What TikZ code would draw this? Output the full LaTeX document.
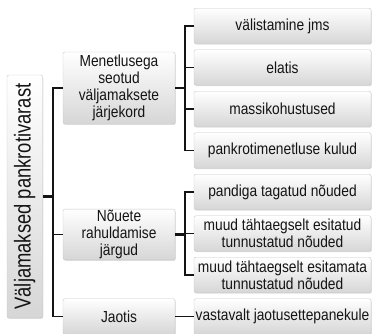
\documentclass[tikz,border=0pt]{standalone}
\usepackage{fontspec}
\setmainfont{Liberation Sans}[FakeStretch=0.86]
\newfontfamily\rootfont{Liberation Sans}[FakeStretch=0.8]
\usetikzlibrary{shadows}
\definecolor{boxedge}{RGB}{200,200,200}
\definecolor{boxlow}{RGB}{214,214,214}
\definecolor{lnk}{RGB}{20,20,20}

\begin{document}
\begin{tikzpicture}[x=1pt,y=-1pt,
  every node/.style={font=\fontsize{16}{17}\selectfont,text=lnk},
  bx/.style={draw=boxedge,rounded corners=2pt,top color=white,
    bottom color=boxlow,inner sep=1pt,align=center,
    drop shadow={shadow xshift=0.8pt,shadow yshift=-0.9pt,opacity=0.25}},
  mid/.style={bx,minimum width=112pt},
  leaf/.style={bx,minimum width=177pt,minimum height=35.5pt},
  br/.style={draw=lnk,line width=1.1pt},
  stub/.style={draw=lnk,line width=2.6pt}]
\useasboundingbox (0,0) rectangle (372,334);
% root
\node[bx,rotate=90,minimum width=243pt,minimum height=35.5pt,
  font=\rootfont\fontsize{23}{24}\selectfont] (root) at (24.75,196.5)
  {Väljamaksed pankrotivarast};
% middle level
\node[mid,minimum height=72pt] (m1) at (119,88)
  {Menetlusega\\seotud\\väljamaksete\\järjekord};
\node[mid,minimum height=49pt] (m2) at (119,234.5)
  {Nõuete\\rahuldamise\\järgud};
\node[mid,minimum height=35.5pt] (m3) at (119,316.5) {Jaotis};
% leaves
\node[leaf] (l1) at (282.5,26) {välistamine jms};
\node[leaf] (l2) at (282.5,67.5) {elatis};
\node[leaf] (l3) at (282.5,109) {massikohustused};
\node[leaf] (l4) at (282.5,150.5) {pankrotimenetluse kulud};
\node[leaf] (l5) at (282.5,192) {pandiga tagatud nõuded};
\node[leaf] (l6) at (282.5,233.5) {muud tähtaegselt esitatud\\tunnustatud nõuded};
\node[leaf] (l7) at (282.5,275) {muud tähtaegselt esitamata\\tunnustatud nõuded};
\node[leaf] (l8) at (282.5,316.5) {vastavalt jaotusettepanekule};
% connectors
\coordinate (j0) at (53,196.5);
\coordinate (j1) at (185,88);
\coordinate (j2) at (185,234.5);
\draw[stub] (root.south) -- (j0);
\draw[stub] (m1.east) -- (j1);
\draw[stub] (m2.east) -- (j2);
\foreach \m in {m1,m2,m3} {\draw[br] (j0) |- (\m.west);}
\foreach \i in {1,...,4} {\draw[br] (j1) |- (l\i.west);}
\foreach \i in {5,6,7} {\draw[br] (j2) |- (l\i.west);}
\draw[br] (m3.east) -- (l8.west);
\end{tikzpicture}
\end{document}
